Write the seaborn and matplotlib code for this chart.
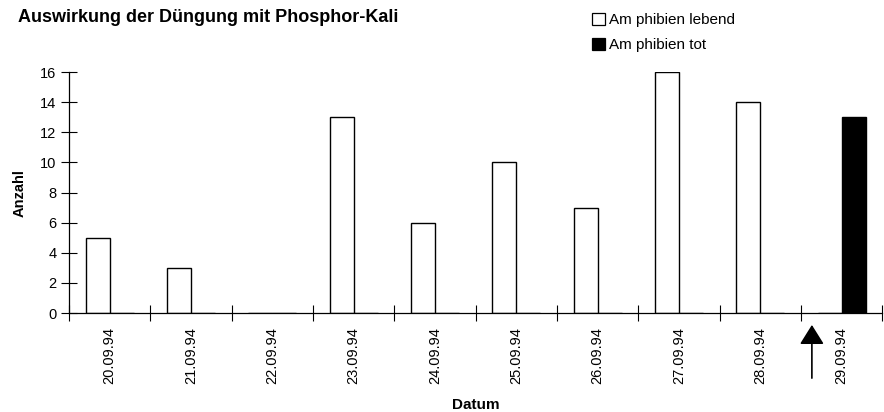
import pandas as pd
import matplotlib.pyplot as plt
import seaborn as sns
from matplotlib.patches import Patch
from matplotlib.ticker import FixedLocator, NullFormatter

# Daten
datum = ["20.09.94", "21.09.94", "22.09.94", "23.09.94", "24.09.94",
         "25.09.94", "26.09.94", "27.09.94", "28.09.94", "29.09.94"]
lebend = [5, 3, 0, 13, 6, 10, 7, 16, 14, 0]
tot = [0, 0, 0, 0, 0, 0, 0, 0, 0, 13]
arten = ["Am phibien lebend", "Am phibien tot"]
yticks = [0, 2, 4, 6, 8, 10, 12, 14, 16]
pfeil_datum = "29.09.94"

df = pd.DataFrame({
    "Datum": datum * 2,
    "Anzahl": lebend + tot,
    "Art": [arten[0]] * len(datum) + [arten[1]] * len(datum),
})

sns.set_style("white")
plt.rcParams["font.family"] = ["Liberation Sans", "DejaVu Sans"]
plt.rcParams.update({"text.color": "black", "axes.labelcolor": "black",
                     "xtick.color": "black", "ytick.color": "black"})

fig = plt.figure(figsize=(8.84, 4.12), dpi=100)
ax = fig.add_axes([0.078, 0.240, 0.920, 0.585])

sns.barplot(data=df, x="Datum", y="Anzahl", hue="Art", order=datum,
            hue_order=arten, palette=["white", "black"], edgecolor="black",
            linewidth=1.0, width=0.59, ax=ax, legend=False)

ax.set_xlim(-0.5, len(datum) - 0.5)
ax.set_ylim(0, 16)
ax.set_yticks(yticks)
ax.tick_params(axis="y", direction="inout", length=12, width=0.8, labelsize=10.5,
               left=True, pad=3, colors="black")
ax.tick_params(axis="x", which="major", length=0, labelsize=10.5, labelrotation=90,
               pad=10, colors="black")
ax.xaxis.set_minor_locator(FixedLocator([i - 0.5 for i in range(len(datum) + 1)]))
ax.xaxis.set_minor_formatter(NullFormatter())
ax.tick_params(axis="x", which="minor", bottom=True, direction="inout", length=11,
               width=0.8, colors="black")

for s in ["top", "right"]:
    ax.spines[s].set_visible(False)
for s in ["left", "bottom"]:
    ax.spines[s].set_color("black")
    ax.spines[s].set_linewidth(0.9)

ax.set_ylabel("Anzahl", fontsize=10.5, fontweight="bold", labelpad=10)
ax.set_xlabel("Datum", fontsize=11, fontweight="bold", labelpad=10)

# Pfeil bei 29.09.94
xi = datum.index(pfeil_datum) - 0.5 + 0.135
ax.annotate("", xy=(xi, -0.6), xytext=(xi, -4.5), xycoords="data",
            annotation_clip=False,
            arrowprops=dict(arrowstyle="-|>,head_length=1.2,head_width=0.75",
                            color="black", lw=1.2))

# Legende
handles = [Patch(facecolor="white", edgecolor="black", linewidth=0.9),
           Patch(facecolor="black", edgecolor="black", linewidth=0.9)]
fig.legend(handles, arten, loc="upper left", bbox_to_anchor=(0.670, 0.968),
           frameon=False, fontsize=11, handlelength=0.8, handleheight=0.8,
           handletextpad=0.3, labelspacing=0.7, borderaxespad=0,
           borderpad=0)

fig.text(18 / 884, 1 - 22 / 412, "Auswirkung der Düngung mit Phosphor-Kali",
         fontsize=13, fontweight="bold", va="baseline", ha="left")

fig.savefig("out.png", dpi=100)
